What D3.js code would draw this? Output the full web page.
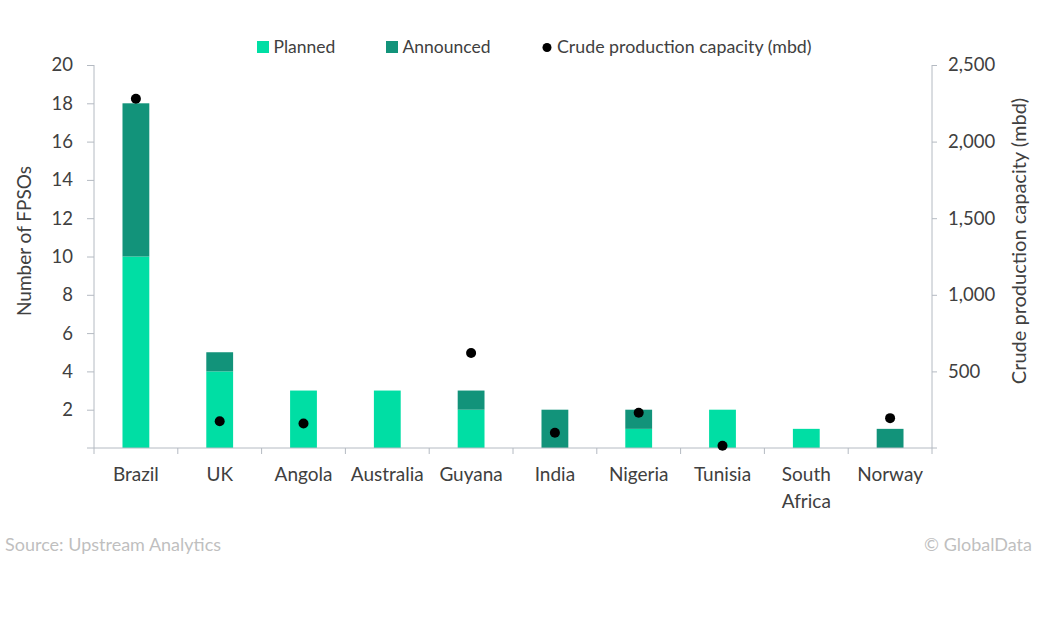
<!DOCTYPE html>
<html><head><meta charset="utf-8">
<script src="https://cdn.jsdelivr.net/npm/d3@7"></script>
<style>body{margin:0;background:#fff} text{font-family:Lato, "Open Sans", sans-serif}</style>
</head><body>
<svg id="c" width="1038" height="628"></svg>
<script>
const categories = ["Brazil","UK","Angola","Australia","Guyana","India","Nigeria","Tunisia","South Africa","Norway"];
const planned   = [10, 4, 3, 3, 2, 0, 1, 2, 1, 0];
const announced = [ 8, 1, 0, 0, 1, 2, 1, 0, 0, 1];
const capacity  = [2280, 175, 160, null, 620, 100, 230, 15, null, 195];
const leftTicks  = [2,4,6,8,10,12,14,16,18,20];
const rightTicks = [500,1000,1500,2000,2500];
const seriesNames = ["Planned","Announced","Crude production capacity (mbd)"];
const colors = {planned:"#00DEA4", announced:"#12937A", dot:"#000000"};

const svg = d3.select("#c");
const L = 94, R = 932, T = 65, B = 448;
const axisColor = "#B4BAC2", textColor = "#404040";

const x = d3.scaleBand().domain(categories).range([L, R]).padding(0);
const yL = d3.scaleLinear().domain([0, 20]).range([B, T]);
const yR = d3.scaleLinear().domain([0, 2500]).range([B, T]);
const barW = x.bandwidth() * 0.32;

const rows = categories.map((c, i) => ({c, p: planned[i], a: announced[i], cap: capacity[i]}));

// bars
const g = svg.append("g");
g.selectAll(".p").data(rows.filter(d => d.p > 0)).join("rect")
  .attr("x", d => x(d.c) + x.bandwidth()/2 - barW/2)
  .attr("width", barW)
  .attr("y", d => yL(d.p))
  .attr("height", d => yL(0) - yL(d.p))
  .attr("fill", colors.planned);
g.selectAll(".a").data(rows.filter(d => d.a > 0)).join("rect")
  .attr("x", d => x(d.c) + x.bandwidth()/2 - barW/2)
  .attr("width", barW)
  .attr("y", d => yL(d.p + d.a))
  .attr("height", d => yL(d.p) - yL(d.p + d.a))
  .attr("fill", colors.announced);

// axes
const ax = svg.append("g").attr("transform", `translate(${L},0)`)
  .call(d3.axisLeft(yL).tickValues(leftTicks).tickSize(7).tickPadding(14).tickSizeOuter(0));
const ar = svg.append("g").attr("transform", `translate(${R},0)`)
  .call(d3.axisRight(yR).tickValues(rightTicks).tickSize(5).tickPadding(11).tickFormat(d3.format(",")).tickSizeOuter(0));
[ax, ar].forEach(a => {
  a.select(".domain").attr("stroke", axisColor).attr("d", `M0,${T}V${B}`);
  a.selectAll(".tick line").attr("stroke", axisColor);
  a.selectAll(".tick text").attr("fill", textColor).style("font-size", "18.5px").style("font-family", "Lato, sans-serif");
});

// bottom axis
svg.append("line").attr("x1", L - 7).attr("x2", R + 5).attr("y1", B).attr("y2", B).attr("stroke", axisColor);
const bounds = categories.map(c => x(c)).concat([R]);
svg.selectAll(".bt").data(bounds).join("line")
  .attr("x1", d => d).attr("x2", d => d).attr("y1", B).attr("y2", B + 6).attr("stroke", axisColor);
const lab = svg.selectAll(".cl").data(categories).join("text")
  .attr("x", d => x(d) + x.bandwidth()/2)
  .attr("y", 481)
  .attr("text-anchor", "middle")
  .attr("fill", textColor)
  .style("font-size", "19px");
lab.each(function(d){
  const words = d.split(" ");
  const t = d3.select(this);
  words.forEach((w, i) => t.append("tspan").attr("x", x(d) + x.bandwidth()/2).attr("dy", i === 0 ? 0 : 27).text(w));
});

// dots
svg.selectAll(".dot").data(rows.filter(d => d.cap != null)).join("circle")
  .attr("cx", d => x(d.c) + x.bandwidth()/2)
  .attr("cy", d => yR(d.cap))
  .attr("r", 5)
  .attr("fill", colors.dot);

// axis titles
svg.append("text").attr("transform", "translate(31,241) rotate(-90)").attr("text-anchor", "middle")
  .attr("fill", textColor).style("font-size", "19px").text("Number of FPSOs");
svg.append("text").attr("transform", "translate(1026,241) rotate(-90)").attr("text-anchor", "middle")
  .attr("fill", textColor).style("font-size", "20px").text("Crude production capacity (mbd)");

// legend
const lg = svg.append("g");
lg.append("rect").attr("x", 257).attr("y", 41).attr("width", 12).attr("height", 12).attr("fill", colors.planned);
lg.append("text").attr("x", 273.5).attr("y", 53).attr("fill", textColor).style("font-size", "17.5px").text(seriesNames[0]);
lg.append("rect").attr("x", 386).attr("y", 41).attr("width", 12).attr("height", 12).attr("fill", colors.announced);
lg.append("text").attr("x", 402.5).attr("y", 53).attr("fill", textColor).style("font-size", "17.5px").text(seriesNames[1]);
lg.append("circle").attr("cx", 547).attr("cy", 47.5).attr("r", 4.5).attr("fill", colors.dot);
lg.append("text").attr("x", 557).attr("y", 53).attr("fill", textColor).style("font-size", "17.8px").text(seriesNames[2]);

// footer
svg.append("text").attr("x", 5).attr("y", 551).attr("fill", "#BFBFBF").style("font-size", "18px").text("Source: Upstream Analytics");
svg.append("text").attr("x", 1032).attr("y", 551).attr("text-anchor", "end").attr("fill", "#BFBFBF").style("font-size", "18px").text("© GlobalData");
</script>
</body></html>
